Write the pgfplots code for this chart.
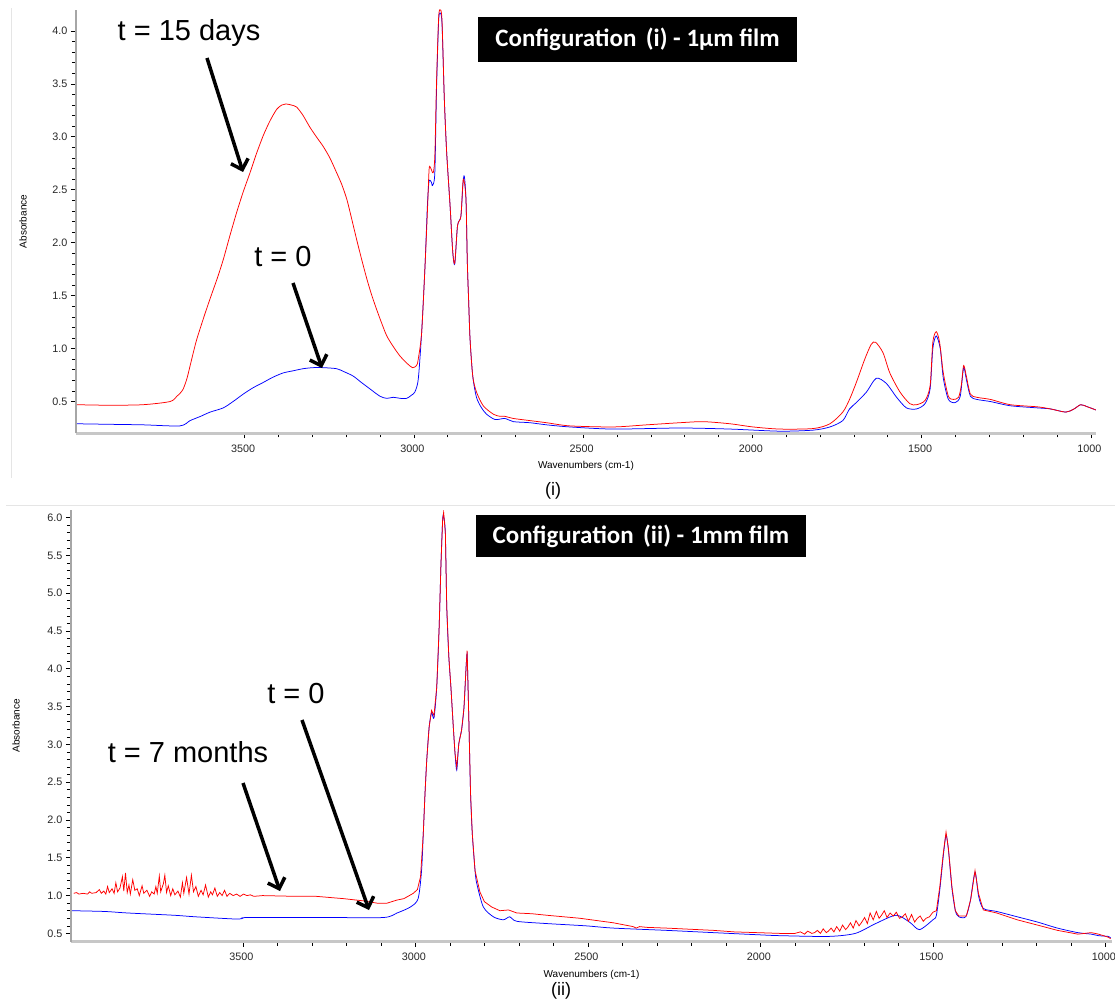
\documentclass[border=0pt]{standalone}
\usepackage{pgfplots}
\pgfplotsset{compat=1.18}
\usepackage{pgfplotstable}
\usepackage{fontspec}
\setmainfont{Liberation Sans}
\newfontfamily\carlito{Carlito}
\usetikzlibrary{arrows.meta}

\definecolor{specred}{RGB}{255,0,0}
\definecolor{specblue}{RGB}{0,0,255}

% (i) 1 um film
\pgfplotstableread{
x y
3995 0.29
3900 0.285
3800 0.28
3691 0.27
3661 0.32
3630 0.36
3602 0.40
3563 0.44
3534 0.50
3504 0.57
3475 0.63
3445 0.68
3416 0.73
3386 0.77
3357 0.79
3327 0.81
3298 0.82
3268 0.82
3228 0.81
3205 0.78
3179 0.74
3155 0.68
3130 0.62
3100 0.55
3080 0.53
3061 0.54
3040 0.53
3021 0.53
3007 0.56
2997 0.59
2987 0.71
2977 1.15
2967 1.78
2960 2.35
2955 2.58
2948 2.57
2945 2.54
2938 2.66
2933 3.45
2927 4.08
2923 4.17
2917 4.08
2910 3.36
2903 2.85
2893 2.35
2885 1.91
2879 1.80
2871 2.16
2861 2.25
2855 2.55
2851 2.63
2846 2.41
2842 1.81
2838 1.44
2834 1.09
2826 0.74
2815 0.54
2800 0.44
2785 0.38
2760 0.33
2731 0.34
2706 0.31
2657 0.30
2608 0.28
2539 0.26
2411 0.24
2214 0.25
2066 0.24
1919 0.22
1820 0.23
1771 0.26
1733 0.32
1713 0.43
1693 0.49
1663 0.59
1634 0.72
1604 0.67
1574 0.54
1545 0.44
1515 0.43
1490 0.48
1475 0.62
1467 1.00
1457 1.12
1445 1.00
1436 0.72
1421 0.52
1401 0.49
1386 0.55
1376 0.82
1368 0.71
1356 0.55
1337 0.52
1297 0.50
1238 0.46
1158 0.44
1119 0.43
1074 0.40
1050 0.43
1030 0.47
1010 0.45
985 0.42
}\topblue

\pgfplotstableread{
x y
3995 0.47
3900 0.465
3800 0.47
3720 0.50
3700 0.55
3690 0.58
3681 0.62
3670 0.72
3660 0.85
3650 0.98
3641 1.09
3620 1.30
3602 1.47
3580 1.67
3563 1.84
3543 2.07
3523 2.29
3504 2.48
3484 2.66
3465 2.84
3445 3.01
3425 3.15
3405 3.26
3390 3.30
3378 3.31
3362 3.30
3346 3.28
3327 3.20
3307 3.09
3288 3.00
3268 2.91
3248 2.80
3228 2.66
3213 2.55
3198 2.41
3184 2.23
3169 2.03
3154 1.84
3139 1.66
3125 1.51
3110 1.37
3095 1.24
3080 1.12
3061 1.02
3041 0.93
3020 0.86
3004 0.82
2992 0.84
2987 0.90
2977 1.15
2967 1.78
2960 2.29
2955 2.69
2951 2.71
2943 2.66
2938 2.82
2933 3.51
2927 4.11
2923 4.20
2917 4.11
2910 3.36
2903 2.85
2893 2.35
2885 1.91
2879 1.81
2871 2.16
2861 2.25
2854 2.60
2846 2.41
2842 1.81
2838 1.44
2834 1.09
2826 0.74
2815 0.59
2795 0.46
2765 0.38
2745 0.36
2731 0.36
2706 0.34
2657 0.32
2608 0.30
2539 0.27
2411 0.26
2312 0.28
2214 0.30
2145 0.31
2066 0.29
1998 0.26
1919 0.24
1820 0.245
1771 0.29
1733 0.40
1713 0.52
1693 0.68
1668 0.90
1649 1.04
1636 1.06
1614 0.96
1594 0.77
1564 0.59
1535 0.48
1515 0.47
1490 0.51
1475 0.65
1467 1.06
1457 1.16
1447 1.06
1436 0.77
1421 0.55
1406 0.52
1391 0.54
1383 0.65
1376 0.84
1368 0.74
1356 0.57
1337 0.54
1297 0.52
1238 0.47
1158 0.45
1119 0.43
1074 0.40
1050 0.43
1030 0.47
1010 0.45
985 0.42
}\topred

% (ii) 1 mm film
\pgfplotstableread{
x y
3995 0.80
3900 0.79
3834 0.77
3700 0.74
3639 0.72
3521 0.69
3500 0.70
3482 0.71
3248 0.71
3092 0.71
3053 0.77
3014 0.85
2992 0.96
2982 1.33
2977 1.82
2972 2.35
2967 2.79
2960 3.23
2953 3.42
2946 3.35
2938 3.76
2931 4.55
2926 5.35
2921 5.96
2918 6.02
2913 5.79
2909 4.82
2903 4.16
2897 3.76
2890 3.23
2885 2.88
2880 2.66
2874 3.01
2866 3.19
2859 3.49
2853 4.02
2850 4.20
2848 3.89
2844 3.14
2840 2.35
2835 1.82
2827 1.33
2822 1.16
2803 0.85
2774 0.72
2745 0.68
2726 0.72
2706 0.66
2619 0.63
2506 0.60
2426 0.57
2272 0.54
2136 0.51
1998 0.48
1943 0.47
1803 0.46
1725 0.50
1666 0.63
1607 0.74
1568 0.65
1539 0.55
1500 0.68
1490 0.74
1480 1.08
1470 1.52
1462 1.80
1455 1.60
1445 1.10
1435 0.80
1425 0.72
1405 0.72
1392 0.92
1378 1.31
1368 1.00
1354 0.83
1315 0.79
1256 0.72
1197 0.65
1139 0.57
1080 0.51
1041 0.49
1020 0.47
992 0.46
985 0.44
}\botblue

\pgfplotstableread{
x y
3990 1.03
3982 1.04
3975 1.02
3963 1.03
3950 1.02
3944 1.05
3938 1.03
3925 1.04
3916 1.08
3910 1.03
3903 1.06
3897 1.02
3892 1.12
3887 1.04
3879 1.09
3873 1.03
3868 1.17
3863 1.05
3856 1.10
3849 1.25
3845 1.06
3840 1.30
3835 1.04
3830 1.14
3826 1.02
3819 1.21
3813 1.07
3806 1.09
3800 1.00
3792 1.13
3787 1.03
3778 1.07
3770 0.99
3764 1.05
3757 1.02
3752 1.12
3748 1.03
3742 1.26
3738 1.05
3730 1.16
3726 1.27
3721 1.04
3716 1.13
3709 1.00
3703 1.09
3697 1.01
3688 1.06
3681 0.98
3675 1.17
3671 1.03
3663 1.24
3656 1.02
3649 1.27
3643 1.05
3636 1.12
3629 0.99
3621 1.07
3615 1.01
3608 1.14
3600 0.98
3593 1.05
3588 1.01
3581 1.10
3574 0.99
3567 1.04
3560 1.00
3553 1.07
3546 0.99
3538 1.03
3528 1.00
3518 1.02
3508 0.99
3498 1.02
3488 1.00
3478 1.01
3468 0.99
3443 1.00
3346 0.99
3287 0.99
3209 0.96
3150 0.93
3111 0.90
3082 0.90
3054 0.94
3033 0.96
3006 1.03
2994 1.08
2985 1.25
2977 1.82
2972 2.35
2967 2.79
2960 3.23
2953 3.45
2946 3.38
2938 3.76
2931 4.55
2926 5.35
2921 5.96
2918 6.07
2913 5.79
2909 4.82
2903 4.16
2897 3.76
2890 3.23
2885 2.88
2880 2.70
2874 3.01
2866 3.19
2859 3.49
2853 4.02
2850 4.24
2848 3.89
2844 3.14
2840 2.35
2835 1.82
2827 1.33
2813 1.05
2800 0.92
2779 0.85
2755 0.80
2730 0.81
2706 0.77
2662 0.76
2619 0.74
2523 0.70
2426 0.64
2369 0.59
2360 0.57
2350 0.59
2330 0.58
2272 0.57
2136 0.54
2076 0.52
1943 0.50
1900 0.50
1884 0.52
1872 0.49
1863 0.53
1851 0.50
1843 0.51
1835 0.54
1826 0.50
1818 0.56
1809 0.51
1803 0.53
1795 0.57
1787 0.52
1779 0.59
1770 0.53
1762 0.61
1753 0.55
1747 0.58
1739 0.64
1731 0.57
1723 0.67
1714 0.60
1706 0.65
1698 0.71
1690 0.63
1682 0.77
1673 0.68
1664 0.79
1656 0.70
1649 0.74
1641 0.80
1633 0.71
1624 0.77
1615 0.73
1606 0.78
1597 0.70
1588 0.72
1580 0.76
1571 0.66
1562 0.75
1553 0.65
1545 0.70
1537 0.73
1528 0.66
1520 0.70
1510 0.72
1500 0.78
1490 0.80
1480 1.12
1470 1.56
1462 1.84
1455 1.62
1445 1.12
1435 0.80
1425 0.73
1403 0.73
1390 0.96
1378 1.33
1368 1.03
1354 0.81
1315 0.77
1256 0.68
1197 0.61
1139 0.54
1080 0.49
1041 0.51
1020 0.49
992 0.45
985 0.43
}\botred

\pgfplotsset{
  spec/.style={
    scale only axis,
    x dir=reverse,
    axis lines*=left,
    x axis line style={draw=black!22, line width=2.5pt},
    y axis line style={draw=black!35, line width=1.5pt},
    tick align=outside,
    tick style={black, line width=0.6pt},
    major tick length=5pt,
    minor tick length=4pt,
    xtick={1000,1500,...,3500},
    minor x tick num=4,
    minor y tick num=4,
    ticklabel style={font=\fontsize{10.8}{12}\selectfont, text=black!85},
    xticklabel style={/pgf/number format/1000 sep={}, yshift=-3pt, xshift=-1.5pt},
    yticklabel style={/pgf/number format/fixed, /pgf/number format/fixed zerofill,
      /pgf/number format/precision=1},
    /pgf/number format/assume math mode=true,
    xlabel={Wavenumbers (cm-1)},
    ylabel={Absorbance},
    label style={font=\fontsize{12.3}{14}\selectfont, text=black!85},
    every axis x label/.style={at={(axis description cs:0.5,0)}, anchor=center, yshift=-33pt},
  },
  smoothline/.style={line width=0.75pt, smooth, tension=0.45},
}

\begin{document}
\begin{tikzpicture}
\path[use as bounding box] (0pt,0pt) rectangle (1115pt,-1003pt);

% faint frame lines of the original screenshot
\draw[black!10, line width=1pt] (11pt,-8pt) -- (11pt,-478pt);
\draw[black!10, line width=1pt] (6pt,-505pt) -- (1115pt,-505pt);

\begin{axis}[spec,
  at={(76pt,-433.3pt)}, anchor=south west,
  width=1020pt, height=423.6pt,
  xmin=985, xmax=3998, ymin=0.2, ymax=4.2,
  ytick={0.5,1.0,...,4.0},
  every axis y label/.style={at={(axis description cs:0,0.5)}, xshift=-53pt, rotate=90, anchor=center},
]
\addplot[specblue, smoothline] table[x=x, y=y] {\topblue};
\addplot[specred, smoothline] table[x=x, y=y] {\topred};
\end{axis}

\begin{axis}[spec,
  at={(71pt,-941.7pt)}, anchor=south west,
  width=1041pt, height=431.7pt,
  xmin=981, xmax=3998, ymin=0.39, ymax=6.1,
  ytick={0.5,1.0,...,6.0},
  every axis y label/.style={at={(axis description cs:0,0.5)}, xshift=-55pt, rotate=90, anchor=center},
]
\addplot[specblue, smoothline] table[x=x, y=y] {\botblue};
\addplot[specred, line width=0.75pt] table[x=x, y=y] {\botred};
\end{axis}

% panel titles
\node[fill=black, text=white, font=\carlito\bfseries\fontsize{25}{30}\selectfont,
  minimum width=319pt, minimum height=45pt, inner sep=0pt] at (637.5pt,-39.5pt)
  {Configuration\hspace{0.15em} (i) - 1μm film};
\node[fill=black, text=white, font=\carlito\bfseries\fontsize{25}{30}\selectfont,
  minimum width=330pt, minimum height=42pt, inner sep=0pt] at (641pt,-536pt)
  {Configuration\hspace{0.15em} (ii) - 1mm film};

% panel captions
\node[font=\fontsize{18}{20}\selectfont] at (553pt,-491pt) {(i)};
\node[font=\fontsize{18}{20}\selectfont] at (561pt,-991pt) {(ii)};

% annotations
\node[font=\fontsize{29}{32}\selectfont] at (189pt,-33pt) {t = 15 days};
\node[font=\fontsize{29}{32}\selectfont] at (283pt,-257pt) {t = 0};
\node[font=\fontsize{29}{32}\selectfont] at (188pt,-752pt) {t = 7 months};
\node[font=\fontsize{29}{32}\selectfont] at (296pt,-694pt) {t = 0};

\begin{scope}[line width=3.5pt, -{Straight Barb[length=9pt, width=18pt]}]
\draw (207pt,-58pt) -- (243pt,-172pt);
\draw (293pt,-283pt) -- (322pt,-368pt);
\draw (243pt,-783pt) -- (280pt,-891pt);
\draw (302pt,-720pt) -- (369pt,-910pt);
\end{scope}
\end{tikzpicture}
\end{document}
